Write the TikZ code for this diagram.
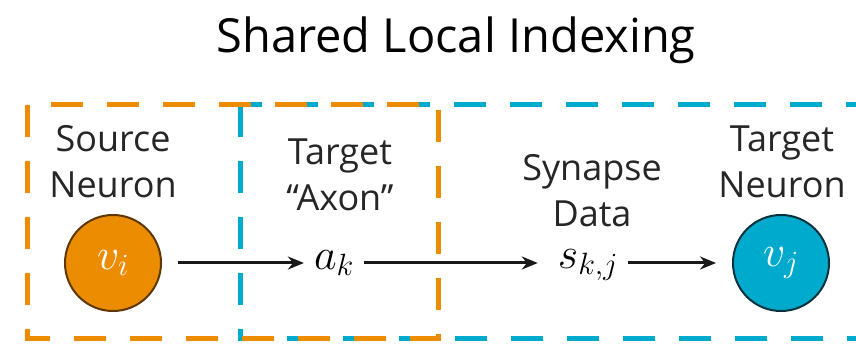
\documentclass[tikz,border=0pt]{standalone}
\usepackage{fix-cm}
\usepackage{fontspec}
\setmainfont{Open Sans}
\usetikzlibrary{positioning,arrows.meta}
\definecolor{axonorange}{HTML}{EC8C00}
\definecolor{neuronblue}{HTML}{00AACC}
\tikzset{
  lbl/.style={align=center, font=\fontsize{36}{46}\selectfont, text=black!85, inner sep=1pt},
  var/.style={font=\fontsize{44}{50}\selectfont, inner sep=0pt},
  neuron/.style={circle, draw, line width=2pt, minimum size=96pt, inner sep=0pt},
  box/.style={line width=5pt, dash pattern=on 32pt off 24pt},
  link/.style={-{Stealth[length=16pt,width=13pt]}, line width=3pt, black!90}
}
\begin{document}
\begin{tikzpicture}[x=1pt, y=-1pt]
			\useasboundingbox (0,0) rectangle (856,344);
			\node (title) at (456,40) {\fontsize{47}{52}\selectfont Shared Local Indexing};
			% dashed regions
			\draw[box, neuronblue] (240,105) rectangle (858,338);
			\draw[box, axonorange] (27,105) rectangle (438,338);
			% neurons and indices
			\node[neuron, fill=axonorange, draw=axonorange!40!black, text=white, var] (vi) at (113,263) {$v_i$};
			\node[var] (ak) at (334,263) {$a_k$};
			\node[var] (skj) at (588,265) {$s_{k,j}$};
			\node[neuron, fill=neuronblue, draw=neuronblue!30!black, text=white, var] (vj) at (781,263) {$v_j$};
			\draw[link, shorten <=16pt, shorten >=10pt] (vi) -- (ak);
			\draw[link, shorten <=10pt, shorten >=20pt] (ak) -- (skj.west |- ak);
			\draw[link, shorten <=10pt, shorten >=16pt] (skj.east |- vj) -- (vj);
			\path 
			(113,162) node[lbl] (src) {Source\\Neuron}
			(340,175) node[lbl] (axon) {Target\\``Axon''}
			(592,191) node[lbl] (syn) {Synapse\\Data}
			(782,162) node[lbl] (tgt) {Target\\Neuron}
			;
	\end{tikzpicture}
\end{document}
